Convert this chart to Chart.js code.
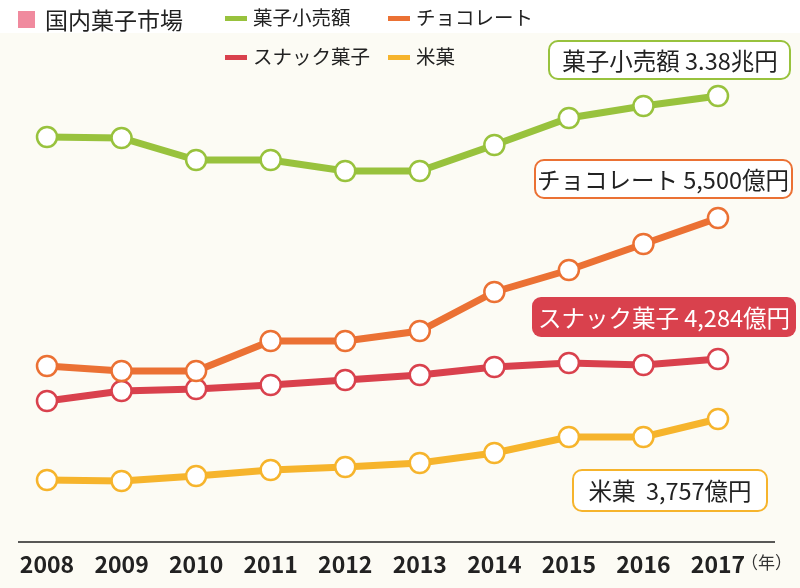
<!DOCTYPE html>
<html lang="ja">
<head>
<meta charset="UTF-8">
<title>国内菓子市場</title>
<script src="https://cdn.jsdelivr.net/npm/chart.js"></script>
<style>
  html, body { margin: 0; padding: 0; background: #fcfbf4; }
  #wrap { width: 800px; height: 588px; position: relative; }
</style>
</head>
<body>
<div id="wrap"><canvas id="chart" width="800" height="588"></canvas></div>
<script>
// years on the x axis
const years = ['2008', '2009', '2010', '2011', '2012', '2013', '2014', '2015', '2016', '2017'];
// schematic heights (no y axis shown)
const kashiKouri = [405, 404, 382, 382, 371, 371, 397, 424, 436, 446];
const choco      = [176, 171, 171, 201, 201, 211, 250, 272, 298, 324];
const snack      = [141, 151, 153, 157, 162, 167, 175, 179, 177, 183];
const beika      = [62, 61, 66, 72, 75, 79, 89, 105, 105, 123];

const GREEN = '#98c23d', ORANGE = '#eb7134', RED = '#d9414d', YELLOW = '#f6b42c', PINK = '#f08a9e';
const JP = "'Noto Sans CJK JP', 'Noto Sans', sans-serif";

function series(label, data, color) {
  return {
    label, data,
    borderColor: color,
    borderWidth: 7,
    pointRadius: 10,
    pointHoverRadius: 10,
    pointBackgroundColor: '#ffffff',
    pointBorderColor: color,
    pointBorderWidth: 2.5,
    tension: 0,
    clip: false
  };
}

function roundBox(ctx, x, y, w, h, r, fill, stroke) {
  ctx.beginPath();
  ctx.roundRect(x, y, w, h, r);
  ctx.fillStyle = fill;
  ctx.fill();
  if (stroke) { ctx.lineWidth = 2; ctx.strokeStyle = stroke; ctx.stroke(); }
}

const decor = {
  id: 'decor',
  beforeDraw(chart) {
    // white strip behind the first legend row
    chart.ctx.fillStyle = '#ffffff';
    chart.ctx.fillRect(0, 0, chart.width, 33);
  },
  afterDatasetsDraw(chart) {
    const ctx = chart.ctx;
    const bottom = chart.chartArea.bottom;
    ctx.save();
    // axis line
    ctx.strokeStyle = '#222';
    ctx.lineWidth = 1.5;
    ctx.beginPath();
    ctx.moveTo(18, bottom);
    ctx.lineTo(775, bottom);
    ctx.stroke();
    // unit
    ctx.fillStyle = '#333';
    ctx.font = '17px ' + JP;
    ctx.textBaseline = 'middle';
    ctx.textAlign = 'left';
    ctx.fillText('（年）', 741, 563);

    // legend
    ctx.fillStyle = PINK;
    ctx.fillRect(18, 11, 17, 17);
    ctx.fillStyle = '#222';
    ctx.font = '23px ' + JP;
    ctx.fillText('国内菓子市場', 45, 20);
    const items = [
      [chart.data.datasets[0], 225, 18],
      [chart.data.datasets[1], 388, 18],
      [chart.data.datasets[2], 225, 57],
      [chart.data.datasets[3], 388, 57]
    ];
    ctx.font = '19.5px ' + JP;
    items.forEach(([ds, x, y]) => {
      ctx.fillStyle = ds.borderColor;
      ctx.fillRect(x, y - 2, 22, 5);
      ctx.fillStyle = '#222';
      ctx.fillText(ds.label, x + 28, y);
    });

    // value boxes
    ctx.font = '23.5px ' + JP;
    ctx.textAlign = 'center';
    roundBox(ctx, 549, 41, 241, 38, 9, '#ffffff', GREEN);
    ctx.fillStyle = '#222';
    ctx.fillText('菓子小売額 3.38兆円', 670, 61);

    roundBox(ctx, 535, 160, 257, 38, 9, '#ffffff', ORANGE);
    ctx.fillStyle = '#222';
    ctx.fillText('チョコレート 5,500億円', 663, 180);

    roundBox(ctx, 532, 297, 264, 40, 9, RED, null);
    ctx.fillStyle = '#ffffff';
    ctx.fillText('スナック菓子 4,284億円', 664, 318);

    roundBox(ctx, 573, 470, 194, 41, 9, '#ffffff', YELLOW);
    ctx.fillStyle = '#222';
    ctx.fillText('米菓  3,757億円', 670, 491);
    ctx.restore();
  }
};

new Chart(document.getElementById('chart'), {
  type: 'line',
  data: {
    labels: years,
    datasets: [
      series('菓子小売額', kashiKouri, GREEN),
      series('チョコレート', choco, ORANGE),
      series('スナック菓子', snack, RED),
      series('米菓', beika, YELLOW)
    ]
  },
  options: {
    responsive: false,
    animation: false,
    layout: { padding: { left: 47, right: 82, top: 60, bottom: 0 } },
    plugins: { legend: { display: false }, tooltip: { enabled: false } },
    scales: {
      x: {
        offset: false,
        grid: { display: false, drawTicks: false },
        border: { display: false },
        ticks: { color: '#222', padding: 8, maxRotation: 0, autoSkip: false,
                 font: { family: JP, size: 23, weight: 'bold' } },
        afterFit(scale) { scale.height = 46; }
      },
      y: { display: false, min: 0, max: 482 }
    }
  },
  plugins: [decor]
});
</script>
</body>
</html>
